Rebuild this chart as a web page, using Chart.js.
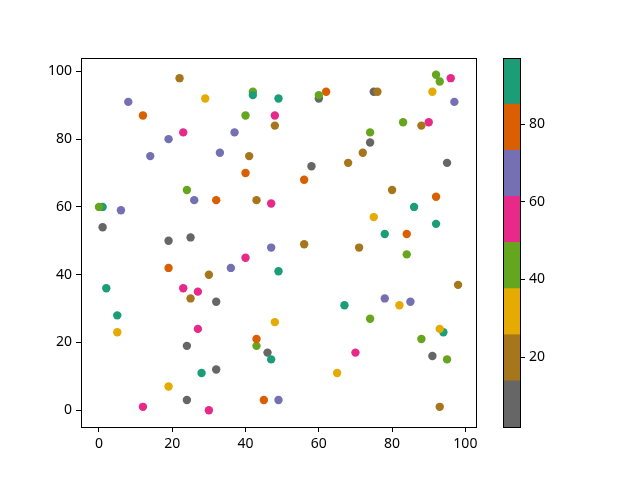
<!DOCTYPE html>
<html>
<head>
<meta charset="utf-8">
<script src="https://cdn.jsdelivr.net/npm/chart.js@4"></script>
<style>
  body { margin: 0; background: #fff; }
  #wrap { position: relative; width: 640px; height: 480px; }
  canvas { position: absolute; left: 0; top: 0; }
</style>
</head>
<body>
<div id="wrap">
  <canvas id="scatter" width="640" height="480"></canvas>
  <canvas id="colorbar" width="640" height="480"></canvas>
</div>
<script>
// point positions and colour values
const xs = [22, 8, 29, 42, 49, 12, 40, 48, 48, 23, 19, 37, 14, 33, 41, 40, 24, 26, 32, 43, 47, 1, 6, 1, 19, 25, 47,
  60, 62, 75, 76, 92, 93, 96, 91, 97, 83, 90, 88, 74, 74, 72, 68, 58, 95, 56, 80, 92, 86, 75, 78, 84, 92, 56, 71,
  40, 19, 36, 30, 49, 2, 23, 27, 25, 32, 5, 5, 27, 48, 24, 43, 43, 46, 47, 32, 28, 19, 24, 12, 30, 45, 49,
  84, 98, 78, 82, 85, 67, 74, 94, 93, 88, 70, 91, 95, 65, 93,
  42, 0, 60];
const ys = [98, 91, 92, 94, 92, 87, 87, 87, 84, 82, 80, 82, 75, 76, 75, 70, 65, 62, 62, 62, 61, 60, 59, 54, 50, 51, 48,
  92, 94, 94, 94, 99, 97, 98, 94, 91, 85, 85, 84, 82, 79, 76, 73, 72, 73, 68, 65, 63, 60, 57, 52, 52, 55, 49, 48,
  45, 42, 42, 40, 41, 36, 36, 35, 33, 32, 28, 23, 24, 26, 19, 19, 21, 17, 15, 12, 11, 7, 3, 1, 0, 3, 3,
  46, 37, 33, 31, 32, 31, 27, 23, 24, 21, 17, 16, 15, 11, 1,
  93, 60, 93];
const cs = [20, 67, 31, 43, 91, 79, 43, 55, 20, 55, 67, 67, 67, 67, 20, 79, 43, 67, 79, 20, 55, 91, 67, 8, 8, 8, 67,
  8, 79, 8, 20, 43, 43, 55, 31, 67, 43, 55, 20, 43, 8, 20, 20, 8, 8, 79, 20, 79, 91, 31, 91, 79, 91, 20, 20,
  55, 79, 67, 20, 91, 91, 55, 55, 20, 8, 91, 31, 55, 31, 8, 43, 79, 2, 91, 8, 91, 31, 8, 55, 55, 79, 67,
  43, 20, 67, 31, 67, 91, 43, 91, 31, 43, 55, 8, 43, 31, 20,
  91, 43, 43];

const vmin = 2;
const vmax = 97;
const tickValues = [0, 20, 40, 60, 80, 100];
const barTicks = [20, 40, 60, 80];
// Dark2 reversed, low -> high
const palette = ["#666666", "#a6761d", "#e6ab02", "#66a61e", "#e7298a", "#7570b3", "#d95f02", "#1b9e77"];

function colourFor(v) {
  let i = Math.floor((v - vmin) / (vmax - vmin) * palette.length);
  i = Math.max(0, Math.min(palette.length - 1, i));
  return palette[i];
}

const font = { family: "'Noto Sans', 'DejaVu Sans', sans-serif", size: 14 };

const frame = {
  id: "frame",
  afterDraw(chart) {
    const a = chart.chartArea;
    const ctx = chart.ctx;
    ctx.save();
    ctx.strokeStyle = "#000";
    ctx.lineWidth = 1;
    ctx.strokeRect(Math.round(a.left) + 0.5, Math.round(a.top) + 0.5,
      Math.round(a.right - a.left), Math.round(a.bottom - a.top));
    ctx.restore();
  }
};

function fixedTicks(list) {
  return function (scale) {
    scale.ticks = list.map(v => ({ value: v }));
  };
}

const points = xs.map((x, i) => ({ x: x, y: ys[i] }));

new Chart(document.getElementById("scatter"), {
  type: "scatter",
  data: {
    datasets: [{
      data: points,
      pointBackgroundColor: cs.map(colourFor),
      pointBorderWidth: 0,
      pointRadius: 4.2,
      pointHoverRadius: 4.2
    }]
  },
  options: {
    responsive: false,
    animation: false,
    events: [],
    layout: { padding: { left: 0, top: 58, right: 164, bottom: 0 } },
    plugins: { legend: { display: false }, tooltip: { enabled: false } },
    scales: {
      x: {
        type: "linear",
        min: -4.9,
        max: 102.9,
        afterBuildTicks: fixedTicks(tickValues),
        afterFit(scale) { scale.height = 53; },
        grid: { drawOnChartArea: false, drawTicks: true, tickLength: 5, tickColor: "#000" },
        border: { display: false },
        ticks: { color: "#000", font: font, padding: 4, maxRotation: 0 }
      },
      y: {
        type: "linear",
        min: -4.95,
        max: 103.95,
        afterBuildTicks: fixedTicks(tickValues),
        afterFit(scale) { scale.width = 81; },
        grid: { drawOnChartArea: false, drawTicks: true, tickLength: 5, tickColor: "#000" },
        border: { display: false },
        ticks: { color: "#000", font: font, padding: 4 }
      }
    }
  },
  plugins: [frame]
});

// colour bar: one floating bar per colour band
const step = (vmax - vmin) / palette.length;
const bands = palette.map((col, i) => ({
  data: [[vmin + i * step, vmin + (i + 1) * step]],
  backgroundColor: col,
  borderWidth: 0,
  grouped: false,
  barPercentage: 1,
  categoryPercentage: 1
}));

new Chart(document.getElementById("colorbar"), {
  type: "bar",
  data: { labels: [""], datasets: bands },
  options: {
    responsive: false,
    animation: false,
    events: [],
    layout: { padding: { left: 503, top: 58, right: 0, bottom: 53 } },
    plugins: { legend: { display: false }, tooltip: { enabled: false } },
    scales: {
      x: { display: false },
      y: {
        position: "right",
        min: vmin,
        max: vmax,
        afterBuildTicks: fixedTicks(barTicks),
        afterFit(scale) { scale.width = 120; },
        grid: { drawOnChartArea: false, drawTicks: true, tickLength: 5, tickColor: "#000" },
        border: { display: false },
        ticks: { color: "#000", font: font, padding: 4 }
      }
    }
  },
  plugins: [frame]
});
</script>
</body>
</html>
